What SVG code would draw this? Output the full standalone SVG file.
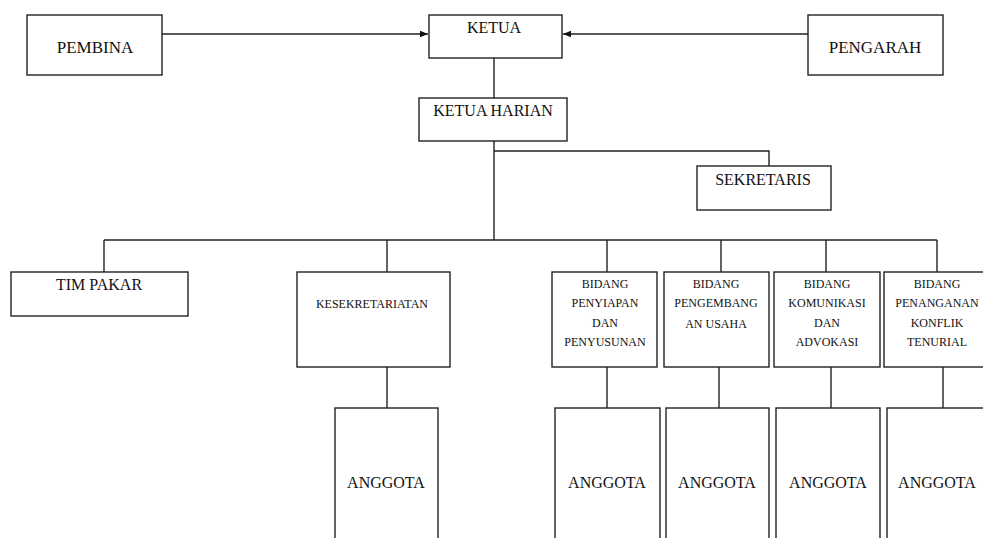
<svg xmlns="http://www.w3.org/2000/svg" width="983" height="538" viewBox="0 0 983 538">
<style>
.box{fill:#fff;stroke:#222;stroke-width:1.4}
.ln{fill:none;stroke:#222;stroke-width:1.4}
text{font-family:"Liberation Serif","Times New Roman",serif;fill:#111;text-anchor:middle}
.t16{font-size:16px}
.t17{font-size:17px}
.t12{font-size:12px}
</style>
<defs>
<marker id="arr" viewBox="0 0 10 10" refX="10" refY="5" markerWidth="8" markerHeight="8" markerUnits="userSpaceOnUse" orient="auto">
<path d="M0,1 L10,5 L0,9 z" fill="#111"/>
</marker>
</defs>
<rect width="983" height="538" fill="#fff"/>
<g id="connectors">
<line class="ln" x1="162" y1="34" x2="428" y2="34" marker-end="url(#arr)"/>
<line class="ln" x1="808" y1="34" x2="563" y2="34" marker-end="url(#arr)"/>
<line class="ln" x1="494" y1="58" x2="494" y2="98"/>
<line class="ln" x1="494" y1="141" x2="494" y2="240"/>
<polyline class="ln" points="494,151 769,151 769,166"/>
<line class="ln" x1="104" y1="240" x2="937" y2="240"/>
<line class="ln" x1="104" y1="240" x2="104" y2="272"/>
<line class="ln" x1="387" y1="240" x2="387" y2="272"/>
<line class="ln" x1="607" y1="240" x2="607" y2="272"/>
<line class="ln" x1="721" y1="240" x2="721" y2="272"/>
<line class="ln" x1="826" y1="240" x2="826" y2="272"/>
<line class="ln" x1="937" y1="240" x2="937" y2="272"/>
<line class="ln" x1="387" y1="367" x2="387" y2="408"/>
<line class="ln" x1="607" y1="367" x2="607" y2="408"/>
<line class="ln" x1="719" y1="367" x2="719" y2="408"/>
<line class="ln" x1="831" y1="367" x2="831" y2="408"/>
<line class="ln" x1="943" y1="367" x2="943" y2="408"/>
</g>
<g id="pembina"><rect class="box" x="27" y="15" width="135" height="60"/><text class="t17" x="95" y="53">PEMBINA</text></g>
<g id="ketua"><rect class="box" x="429" y="15" width="133" height="43"/><text class="t16" x="494" y="33">KETUA</text></g>
<g id="pengarah"><rect class="box" x="808" y="15" width="135" height="60"/><text class="t17" x="875" y="53">PENGARAH</text></g>
<g id="ketua-harian"><rect class="box" x="419" y="98" width="148" height="43"/><text class="t16" x="493" y="116">KETUA HARIAN</text></g>
<g id="sekretaris"><rect class="box" x="697" y="166" width="134" height="44"/><text class="t16" x="763" y="185">SEKRETARIS</text></g>
<g id="tim-pakar"><rect class="box" x="11" y="272" width="177" height="44"/><text class="t16" x="99" y="290">TIM PAKAR</text></g>
<g id="kesekretariatan"><rect class="box" x="297" y="272" width="153" height="95"/><text class="t12" x="372" y="308">KESEKRETARIATAN</text></g>
<g id="bidang-penyiapan"><rect class="box" x="552" y="272" width="105" height="95"/>
<text class="t12" x="605" y="288">BIDANG</text><text class="t12" x="605" y="307">PENYIAPAN</text><text class="t12" x="605" y="327">DAN</text><text class="t12" x="605" y="346">PENYUSUNAN</text></g>
<g id="bidang-pengembangan"><rect class="box" x="664" y="272" width="105" height="95"/>
<text class="t12" x="716" y="288">BIDANG</text><text class="t12" x="716" y="307">PENGEMBANG</text><text class="t12" x="716" y="328">AN USAHA</text></g>
<g id="bidang-komunikasi"><rect class="box" x="774" y="272" width="106" height="95"/>
<text class="t12" x="827" y="288">BIDANG</text><text class="t12" x="827" y="307">KOMUNIKASI</text><text class="t12" x="827" y="327">DAN</text><text class="t12" x="827" y="346">ADVOKASI</text></g>
<g id="bidang-konflik"><rect class="box" x="884" y="272" width="106" height="95"/>
<text class="t12" x="937" y="288">BIDANG</text><text class="t12" x="937" y="307">PENANGANAN</text><text class="t12" x="937" y="327">KONFLIK</text><text class="t12" x="937" y="346">TENURIAL</text></g>
<g id="anggota-1"><rect class="box" x="335" y="408" width="103" height="140"/><text class="t16" x="386" y="488">ANGGOTA</text></g>
<g id="anggota-2"><rect class="box" x="555" y="408" width="105" height="140"/><text class="t16" x="607" y="488">ANGGOTA</text></g>
<g id="anggota-3"><rect class="box" x="666" y="408" width="103" height="140"/><text class="t16" x="717" y="488">ANGGOTA</text></g>
<g id="anggota-4"><rect class="box" x="776" y="408" width="104" height="140"/><text class="t16" x="828" y="488">ANGGOTA</text></g>
<g id="anggota-5"><rect class="box" x="887" y="408" width="104" height="140"/><text class="t16" x="937" y="488">ANGGOTA</text></g>
</svg>
